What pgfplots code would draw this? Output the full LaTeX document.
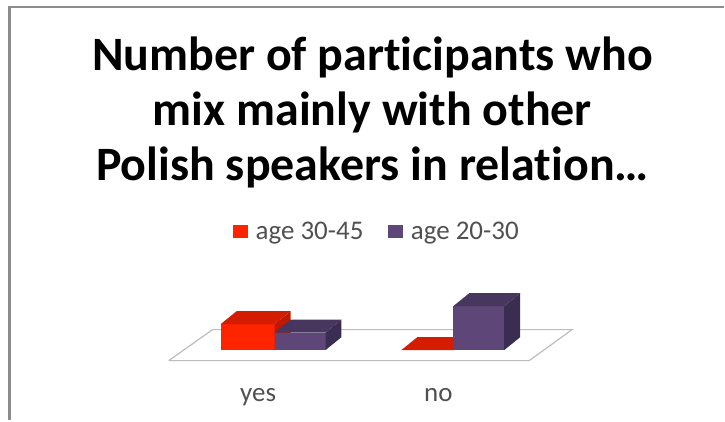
\documentclass[border=0pt]{standalone}
\usepackage{pgfplots}
\pgfplotsset{compat=1.18}
\usepackage{fontspec}
\setmainfont[Ligatures=NoCommon]{Carlito}
\definecolor{redfront}{HTML}{FF2400}
\definecolor{redtop}{HTML}{D41C00}
\definecolor{redside}{HTML}{C01800}
\definecolor{purplefront}{HTML}{5E4778}
\definecolor{purpletop}{HTML}{47375F}
\definecolor{purpleside}{HTML}{3A2D52}
\definecolor{floorline}{HTML}{BDBDBD}
\definecolor{framegrey}{HTML}{8C8C8C}
\definecolor{labelgrey}{HTML}{505050}
\begin{document}
\begin{tikzpicture}
% x runs across the slide; y is the participant count, with its zero on the front of the bars.
% One count equals 4.4 units of height, and every bar recedes by 16 in x and 2.95 in y.
\begin{axis}[
  scale only axis, width=725pt, height=421pt,
  xmin=0, xmax=725, ymin=-16.02, ymax=79.66,
  clip=false,
  axis line style={draw=none},
  ytick=\empty,
  xtick={258.5,439}, xticklabels={yes,no},
  major tick length=0pt,
  x tick label style={font=\fontsize{27}{30}\selectfont, text=labelgrey, anchor=base, yshift=19pt},
  legend columns=2,
  legend cell align=left,
  legend style={at={(axis cs:377.5,27)}, anchor=center, draw=none, fill=none,
    font=\fontsize{27}{30}\selectfont\color{labelgrey},
    /tikz/every odd column/.append style={column sep=5.5pt},
    /tikz/every even column/.append style={column sep=23pt},
    inner sep=0pt},
]
% slide frame
\addplot[framegrey, line width=2.2pt, forget plot] coordinates {(9.5,-16.02) (9.5,78) (725,78)};

% floor of the plot
\addplot[floorline, line width=1.2pt, forget plot] coordinates
  {(169,-2.4) (530,-2.4) (573,4.66) (213,4.66) (169,-2.4)};

% yes, age 30-45: value 5.9
\addplot[fill=redfront, draw=none, area legend,
  legend image code/.code={\fill[redfront] (0pt,-6.5pt) rectangle (15pt,6.5pt);}]
  coordinates {(221,0) (275,0) (275,5.9) (221,5.9)} --cycle;
\addlegendentry{age 30-45}
\addplot[fill=redside, draw=none, forget plot] coordinates {(275,0) (291,2.95) (291,8.85) (275,5.9)} --cycle;
\addplot[fill=redtop, draw=none, forget plot] coordinates {(221,5.9) (275,5.9) (291,8.85) (237,8.85)} --cycle;

% no, age 30-45: value 0
\addplot[fill=redtop, draw=none, forget plot] coordinates {(402,0) (455,0) (471,2.95) (418,2.95)} --cycle;

% yes, age 20-30: value 4.0
\addplot[fill=purplefront, draw=none, area legend,
  legend image code/.code={\fill[purplefront] (0pt,-6.5pt) rectangle (15pt,6.5pt);}]
  coordinates {(275,0) (326,0) (326,4) (275,4)} --cycle;
\addlegendentry{age 20-30}
\addplot[fill=purpleside, draw=none, forget plot] coordinates {(326,0) (342,2.95) (342,6.95) (326,4)} --cycle;
\addplot[fill=purpletop, draw=none, forget plot] coordinates {(275,4) (326,4) (342,6.95) (291,6.95)} --cycle;

% no, age 20-30: value 10
\addplot[fill=purplefront, draw=none, forget plot] coordinates {(454,0) (505,0) (505,10) (454,10)} --cycle;
\addplot[fill=purpleside, draw=none, forget plot] coordinates {(505,0) (521,2.95) (521,12.95) (505,10)} --cycle;
\addplot[fill=purpletop, draw=none, forget plot] coordinates {(454,10) (505,10) (521,12.95) (470,12.95)} --cycle;

% chart title
\node[font=\fontsize{48}{55.5}\selectfont\bfseries, align=center, anchor=center, text=black]
  at (axis cs:373,54.1) {Number of participants who\\mix mainly with other\\Polish speakers in relation\ldots};
\end{axis}
\end{tikzpicture}
\end{document}
